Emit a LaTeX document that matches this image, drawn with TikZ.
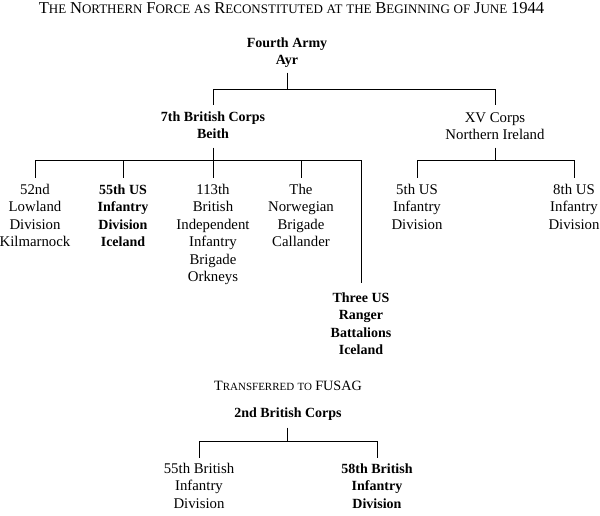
\documentclass[tikz,border=0pt]{standalone}
\usepackage{fontspec}
\setmainfont{Liberation Serif}
\newcommand\rfont{\fontsize{14.8}{17.5}\selectfont}
\newcommand\bfont{\fontsize{14}{17.5}\selectfont\bfseries}
\newcommand\TC[1]{{\fontsize{16.6}{16.6}\selectfont #1}}
\newcommand\TS[1]{{\fontsize{13}{13}\selectfont #1}}
\newcommand\UC[1]{{\fontsize{14.2}{14.2}\selectfont #1}}
\newcommand\US[1]{{\fontsize{11}{11}\selectfont #1}}
\begin{document}
\begin{tikzpicture}[x=1pt,y=-1pt,
  unit/.style={inner sep=0pt, align=center, anchor=north, font=\rfont},
  bunit/.style={unit, font=\bfont},
  head/.style={inner sep=0pt, anchor=base, font=\fontsize{15}{15}\selectfont},
  conn/.style={line width=0.8pt}]
\useasboundingbox (0,0) rectangle (600,515);
% titles
\node[head] (title) at (291.5,13) {\TC{T}\TS{HE} \TC{N}\TS{ORTHERN} \TC{F}\TS{ORCE} \TS{AS} \TC{R}\TS{ECONSTITUTED} \TS{AT} \TS{THE} \TC{B}\TS{EGINNING} \TS{OF} \TC{J}\TS{UNE} \TC{1944}};
\node[head, font=\fontsize{13}{13}\selectfont] (trans) at (288,390) {\UC{T}\US{RANSFERRED} \US{TO} \UC{FUSAG}};
% nodes
\node[bunit] (army) at (287,37.4) {Fourth Army\\Ayr};
\node[bunit] (c7) at (213,111.4) {7th British Corps\\Beith};
\node[unit] (c15) at (495,112.2) {XV Corps\\Northern Ireland};
\node[unit] (d52) at (35,183.9) {52nd\\Lowland\\Division\\Kilmarnock};
\node[bunit] (d55) at (123,184.4) {55th US\\Infantry\\Division\\Iceland};
\node[unit] (b113) at (213,183.9) {113th\\British\\Independent\\Infantry\\Brigade\\Orkneys};
\node[unit] (norw) at (301,183.9) {The\\Norwegian\\Brigade\\Callander};
\node[bunit] (rang) at (361,292.4) {Three US\\Ranger\\Battalions\\Iceland};
\node[unit] (d5) at (417,183.9) {5th US\\Infantry\\Division};
\node[unit] (d8) at (574,183.9) {8th US\\Infantry\\Division};
\node[bunit] (c2) at (288,407.4) {2nd British Corps};
\node[unit] (b55) at (199,462.9) {55th British\\Infantry\\Division};
\node[bunit] (b58) at (377,463.4) {58th British\\Infantry\\Division};
% forks
\coordinate (f1) at (287,89.5);
\coordinate (f2) at (213,160);
\coordinate (f3) at (495,160.5);
\coordinate (f4) at (287,441);
% connectors
\draw[conn, shorten <=4.5pt] (army.south) -- (f1);
\draw[conn, shorten >=6.4pt] (f1) -| (c7.north);
\draw[conn, shorten >=7.2pt] (f1) -| (c15.north);
\draw[conn, shorten <=8.5pt] (c7.south) -- (f2);
\draw[conn, shorten >=5.9pt] (f2) -| (d52.north);
\draw[conn, shorten >=6.4pt] (f2) -| (d55.north);
\draw[conn, shorten >=5.9pt] (f2) -| (b113.north);
\draw[conn, shorten >=5.9pt] (f2) -| (norw.north);
\draw[conn, shorten >=9.4pt] (f2) -| (rang.north);
\draw[conn, shorten <=7.5pt] (c15.south) -- (f3);
\draw[conn, shorten >=5.9pt] (f3) -| (d5.north);
\draw[conn, shorten >=5.9pt] (f3) -| (d8.north);
\draw[conn, shorten <=7pt] ([xshift=-1pt]c2.south) -- (f4);
\draw[conn, shorten >=4.9pt] (f4) -| (b55.north);
\draw[conn, shorten >=5.4pt] (f4) -| (b58.north);
\end{tikzpicture}
\end{document}
